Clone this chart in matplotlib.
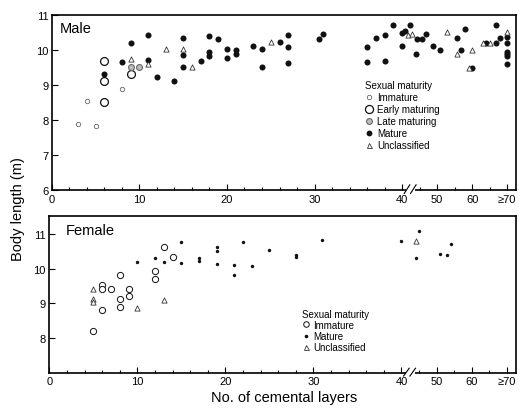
import numpy as np
import matplotlib
matplotlib.use("Agg")
import matplotlib.pyplot as plt
from matplotlib.lines import Line2D

plt.rcParams['font.family'] = ['Liberation Sans', 'DejaVu Sans']

# ===== data =====
# Male
male_immature_x = [3, 4, 5, 8]
male_immature_y = [7.90, 8.53, 7.82, 8.90]

male_early_x = [6, 6, 6, 9]
male_early_y = [9.70, 9.12, 8.51, 9.31]

male_late_x = [9, 10]
male_late_y = [9.51, 9.51]

male_mature_x = [6, 8, 9, 11, 11, 12, 14, 15, 15, 15, 17, 18, 18, 18, 19, 20, 20,
                 21, 21, 23, 24, 24, 26, 27, 27, 27, 30.5, 31, 36, 36, 37, 38, 38,
                 39, 40, 40, 40.8, 42.3, 44, 44.2, 45.6, 46.9, 48.8, 50.7, 55.8,
                 56.8, 58, 60, 64.1, 66.9, 66.9, 68.1, 70, 70, 70, 70, 70, 70]
male_mature_y = [9.31, 9.67, 10.21, 10.42, 9.72, 9.23, 9.11, 10.33, 9.86, 9.52,
                 9.70, 10.39, 9.94, 9.83, 10.32, 10.03, 9.78, 9.99, 9.90, 10.11,
                 10.02, 9.52, 10.22, 10.42, 10.10, 9.62, 10.32, 10.45, 10.10, 9.66,
                 10.34, 10.43, 9.70, 10.71, 10.48, 10.11, 10.53, 10.71, 9.90, 10.32,
                 10.32, 10.46, 10.11, 10.01, 10.34, 10.00, 10.61, 9.50, 10.21, 10.70,
                 10.21, 10.35, 10.37, 10.21, 9.95, 9.89, 9.83, 9.59]

male_unclass_x = [9, 11, 13, 15, 16, 25, 41.6, 42.9, 52.9, 55.8, 59.2, 60, 63.1,
                  65.1, 70]
male_unclass_y = [9.75, 9.61, 10.02, 10.02, 9.52, 10.22, 10.42, 10.46, 10.51, 9.90,
                  9.50, 9.99, 10.21, 10.21, 10.52]

# Female
fem_immature_x = [5, 6, 6, 6, 7, 8, 8, 8, 9, 9, 12, 12, 13, 14]
fem_immature_y = [8.20, 9.52, 9.40, 8.82, 9.40, 9.80, 9.11, 8.90, 9.42, 9.21,
                  9.92, 9.71, 10.62, 10.32]

fem_mature_x = [10, 12, 13, 15, 15, 17, 17, 19, 19, 19, 21, 21, 22, 23, 25, 28, 28,
                31, 40, 44, 45, 51, 53, 54]
fem_mature_y = [10.20, 10.31, 10.20, 10.75, 10.17, 10.31, 10.21, 10.62, 10.50,
                10.12, 10.11, 9.80, 10.75, 10.06, 10.53, 10.40, 10.32, 10.81, 10.79,
                10.30, 11.09, 10.42, 10.40, 10.69]

fem_unclass_x = [5, 5, 5, 10, 13, 44]
fem_unclass_y = [9.40, 9.12, 9.03, 8.86, 9.09, 10.79]

xtick_vals = [0, 10, 20, 30, 40, 50, 60, 70]
xtick_labels = ['0', '10', '20', '30', '40', '50', '60', '\u226570']
xminor_vals = [v for v in range(2, 40, 2) if v % 10] + [45, 55, 65]

# ===== broken x axis: compressed after 40 =====
BREAK = 40.0
SHRINK = 0.4


def fwd(x):
    x = np.asarray(x, dtype=float)
    return np.where(x <= BREAK, x, BREAK + (x - BREAK) * SHRINK)


def inv(x):
    x = np.asarray(x, dtype=float)
    return np.where(x <= BREAK, x, BREAK + (x - BREAK) / SHRINK)


def style_axis(ax, ylim, yticks):
    ax.set_xscale('function', functions=(fwd, inv))
    ax.set_xlim(0, 72.5)
    ax.set_ylim(*ylim)
    ax.set_xticks(xtick_vals)
    ax.set_xticklabels(xtick_labels)
    ax.set_xticks(xminor_vals, minor=True)
    ax.set_yticks(yticks)
    ax.tick_params(which='both', direction='in', labelsize=8, width=0.8, pad=2.5)
    ax.tick_params(which='major', length=4)
    ax.tick_params(which='minor', length=2.5)
    for s in ax.spines.values():
        s.set_linewidth(1.2)
    # "//" break mark on the bottom spine
    tr = ax.get_xaxis_transform()
    ax.plot([41.5, 43.2], [0, 0], color='white', lw=2.2, transform=tr,
            clip_on=False, zorder=5)
    for x0 in (40.6, 42.4):
        ax.plot([x0, x0 + 1.6], [-0.02, 0.03], color='black', lw=0.8,
                transform=tr, clip_on=False, zorder=6)


fig = plt.figure(figsize=(5.19, 4.10), dpi=100)
ax1 = fig.add_axes([0.100, 0.534, 0.894, 0.427])
ax2 = fig.add_axes([0.095, 0.088, 0.899, 0.382])

k = '#111111'

# ----- male -----
ax1.scatter(male_immature_x, male_immature_y, s=10, facecolors='white',
            edgecolors='#666666', linewidths=0.6, zorder=3)
ax1.scatter(male_early_x, male_early_y, s=32, facecolors='white',
            edgecolors=k, linewidths=0.9, zorder=3)
ax1.scatter(male_late_x, male_late_y, s=18, facecolors='#bdbdbd',
            edgecolors='#666666', linewidths=0.8, zorder=3)
ax1.scatter(male_mature_x, male_mature_y, s=19, color=k, linewidths=0, zorder=3)
ax1.scatter(male_unclass_x, male_unclass_y, s=14, marker='^', facecolors='white',
            edgecolors='#333333', linewidths=0.6, zorder=3)
style_axis(ax1, (6, 11), [6, 7, 8, 9, 10, 11])
ax1.text(0.016, 0.965, 'Male', transform=ax1.transAxes, fontsize=10.5,
         ha='left', va='top')

male_handles = [
    Line2D([], [], ls='', marker='o', ms=3.2, mfc='white', mec='#666666', mew=0.6),
    Line2D([], [], ls='', marker='o', ms=5.8, mfc='white', mec=k, mew=0.9),
    Line2D([], [], ls='', marker='o', ms=4.2, mfc='#bdbdbd', mec='#666666', mew=0.8),
    Line2D([], [], ls='', marker='o', ms=4.2, mfc=k, mec=k, mew=0),
    Line2D([], [], ls='', marker='^', ms=3.6, mfc='white', mec='#333333', mew=0.6),
]
ax1.legend(male_handles, ['Immature', 'Early maturing', 'Late maturing',
                          'Mature', 'Unclassified'],
           title='Sexual maturity', loc='upper left',
           bbox_to_anchor=(0.675, 0.63), frameon=False, fontsize=7,
           title_fontsize=7, alignment='left', handlelength=0.8,
           handletextpad=0.4, labelspacing=0.22, borderpad=0,
           borderaxespad=0)

# ----- female -----
ax2.scatter(fem_immature_x, fem_immature_y, s=20, facecolors='white',
            edgecolors=k, linewidths=0.7, zorder=3)
ax2.scatter(fem_mature_x, fem_mature_y, s=6, color=k, linewidths=0, zorder=3)
ax2.scatter(fem_unclass_x, fem_unclass_y, s=14, marker='^', facecolors='white',
            edgecolors='#333333', linewidths=0.6, zorder=3)
style_axis(ax2, (7, 11.5), [8, 9, 10, 11])
ax2.text(0.035, 0.96, 'Female', transform=ax2.transAxes, fontsize=10.5,
         ha='left', va='top')

fem_handles = [
    Line2D([], [], ls='', marker='o', ms=4.0, mfc='white', mec=k, mew=0.7),
    Line2D([], [], ls='', marker='o', ms=2.6, mfc=k, mec=k, mew=0),
    Line2D([], [], ls='', marker='^', ms=3.6, mfc='white', mec='#333333', mew=0.6),
]
ax2.legend(fem_handles, ['Immature', 'Mature', 'Unclassified'],
           title='Sexual maturity', loc='upper left',
           bbox_to_anchor=(0.541, 0.41), frameon=False, fontsize=7,
           title_fontsize=7, alignment='left', handlelength=0.8,
           handletextpad=0.4, labelspacing=0.12, borderpad=0, borderaxespad=0)

fig.text(0.035, 0.49, 'Body length (m)', rotation=90, fontsize=10.5,
         ha='center', va='center')
fig.text(0.547, 0.012, 'No. of cemental layers', fontsize=10.5,
         ha='center', va='bottom')

fig.savefig('out.png', dpi=100)
